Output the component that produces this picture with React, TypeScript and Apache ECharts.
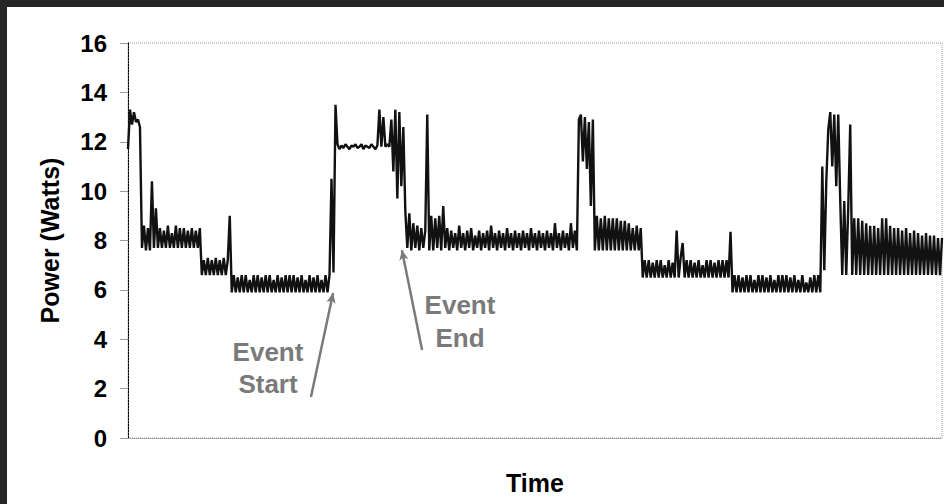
import React, { useEffect, useRef } from "react";
import * as echarts from "echarts";

// Power samples, one per time step, split into the phases of the trace.
const warmUp = [11.7, 13.3, 12.7, 13.2, 12.8, 12.9, 12.6];
const idleHigh = [
  7.7, 8.6, 7.6, 8.5, 7.6, 10.4, 7.7, 9.3, 7.7, 8.5,
  7.7, 8.4, 7.7, 8.6, 7.7, 8.3, 7.7, 8.6, 7.7, 8.5,
  7.7, 8.5, 7.7, 8.4, 7.7, 8.5, 7.7, 8.4, 7.7, 8.5,
];
const idleMid = [6.6, 7.2, 6.6, 7.3, 6.6, 7.2, 6.6, 7.3, 6.6, 7.2, 6.6, 7.3, 6.6, 7.2, 9.0];
const idleLow = [
  5.9, 6.6, 5.9, 6.5, 5.9, 6.6, 5.9, 6.6, 5.9, 6.4,
  5.9, 6.6, 5.9, 6.6, 5.9, 6.5, 5.9, 6.6, 5.9, 6.6,
  5.9, 6.4, 5.9, 6.6, 5.9, 6.5, 5.9, 6.6, 5.9, 6.6,
  5.9, 6.6, 5.9, 6.5, 5.9, 6.6, 5.9, 6.4, 5.9, 6.6,
  5.9, 6.5, 5.9, 6.6, 5.9, 6.4, 5.9, 6.6, 5.9, 6.6,
];
const eventRise = [10.5, 6.7, 13.5];
const eventPlateau = [
  11.9, 11.7, 11.85, 11.75, 11.9, 11.8, 11.7, 11.85, 11.8, 11.9,
  11.75, 11.8, 11.9, 11.7, 11.85, 11.8, 11.75, 11.9, 11.8, 11.7,
  11.85, 13.3, 11.8, 13.0, 11.8, 11.9, 11.8,
];
const eventFall = [12.9, 10.8, 13.3, 9.7, 13.2, 10.2, 12.6, 9.2];
const afterEvent = [
  7.7, 9.1, 7.6, 8.7, 7.7, 8.6, 7.6, 8.5, 7.7, 8.4,
  13.1, 7.6, 9.0, 7.6, 8.9, 7.7, 9.0, 7.6, 9.4, 7.7,
  8.5, 7.6, 8.4, 7.7, 8.3, 7.6, 8.6, 7.7, 8.3, 7.6,
  8.4, 7.7, 8.5, 7.6, 8.2, 7.7, 8.4, 7.6, 8.3, 7.7,
  8.4, 7.6, 8.6, 7.7, 8.3, 7.6, 8.4, 7.7, 8.3, 7.6,
  8.5, 7.7, 8.3, 7.6, 8.4, 7.7, 8.3, 7.6, 8.4, 7.7,
  8.3, 7.6, 8.5, 7.7, 8.3, 7.6, 8.4, 7.7, 8.3, 7.6,
  8.4, 7.7, 8.3, 7.6, 8.7, 7.7, 8.3, 7.6, 8.4, 7.7,
  8.3, 7.6, 8.7, 7.7, 8.4, 7.6,
];
const burst2 = [12.9, 13.1, 11.2, 13.0, 10.9, 12.8, 9.4, 12.9];
const settle2 = [
  7.6, 9.0, 7.6, 8.9, 7.6, 9.0, 7.6, 8.9, 7.6, 8.9,
  7.6, 8.9, 7.6, 8.8, 7.6, 8.8, 7.6, 8.7, 7.6, 8.5,
  7.6, 8.6, 7.6, 8.5,
];
const mid2 = [
  6.5, 7.2, 6.5, 7.2, 6.5, 7.1, 6.5, 7.2, 6.5, 7.2,
  6.5, 7.0, 6.5, 7.2, 6.5, 7.1, 6.5, 8.4, 6.5, 7.3,
  7.9, 6.5, 7.2, 6.5, 7.2, 6.5, 7.1, 6.5, 7.2, 6.5,
  7.0, 6.5, 7.2, 6.5, 7.2, 6.5, 7.1, 6.5, 7.2, 6.5,
  7.2, 6.5, 7.2, 6.5, 8.35,
];
const low2 = [
  5.9, 6.6, 5.9, 6.6, 5.9, 6.5, 5.9, 6.6, 5.9, 6.6,
  5.9, 6.4, 5.9, 6.6, 5.9, 6.6, 5.9, 6.5, 5.9, 6.6,
  5.9, 6.4, 5.9, 6.6, 5.9, 6.6, 5.9, 6.6, 5.9, 6.5,
  5.9, 6.6, 5.9, 6.4, 5.9, 6.6, 5.9, 6.3, 5.9, 6.5,
  5.9, 6.6, 5.9, 6.6, 5.9,
];
const burst3 = [11.0, 6.8, 10.4, 12.5, 13.2, 11.0, 13.1, 10.2, 13.1, 9.6];
const tail = [
  6.6, 9.6, 6.6, 9.3, 12.7, 6.6, 8.9, 6.6, 8.9, 6.6,
  8.8, 6.6, 8.7, 6.6, 8.6, 6.6, 8.6, 6.6, 8.5, 6.6,
  8.9, 6.6, 8.9, 6.6, 8.6, 6.6, 8.5, 6.6, 8.5, 6.6,
  8.4, 6.6, 8.5, 6.6, 8.3, 6.6, 8.4, 6.6, 8.3, 6.6,
  8.2, 6.6, 8.3, 6.6, 8.2, 6.6, 8.2, 6.6, 8.1, 6.6,
  8.1,
];

const yTicks = [0, 2, 4, 6, 8, 10, 12, 14, 16];

// Arrow anchors in (sample index, watts)
const startArrow = { from: [91.7, 1.66], to: [102.8, 5.87] };
const endArrow = { from: [147.4, 3.56], to: [137.3, 7.61] };

const power = [
  ...warmUp, ...idleHigh, ...idleMid, ...idleLow, ...eventRise, ...eventPlateau,
  ...eventFall, ...afterEvent, ...burst2, ...settle2, ...mid2, ...low2, ...burst3, ...tail,
];

const FONT = "'Liberation Sans', Arial, sans-serif";
const NOTE = "#7a7a7a";

export default function App() {
  const ref = useRef<HTMLDivElement>(null);

  useEffect(() => {
    if (!ref.current) return;
    const chart = echarts.init(ref.current, undefined, { renderer: "svg" });
    const data = power.map((v, i) => [i, v]);
    chart.setOption({
      animation: false,
      backgroundColor: "#fff",
      grid: {
        left: 128,
        right: 2,
        top: 43,
        bottom: 66,
        outerBoundsMode: "none",
        containLabel: false,
        show: true,
        borderColor: "#9a9a9a",
        borderWidth: 1,
        borderType: "dotted",
      },
      xAxis: {
        type: "value",
        min: 0,
        max: power.length - 1,
        name: "Time",
        nameLocation: "middle",
        nameGap: 32,
        nameTextStyle: { fontFamily: FONT, fontWeight: "bold", fontSize: 25, color: "#000" },
        axisLine: { show: true, lineStyle: { color: "#9a9a9a", type: "dotted", width: 1 } },
        axisTick: { show: false },
        axisLabel: { show: false },
        splitLine: { show: false },
      },
      yAxis: {
        type: "value",
        min: yTicks[0],
        max: yTicks[yTicks.length - 1],
        interval: 2,
        name: "Power (Watts)",
        nameLocation: "middle",
        nameGap: 66,
        nameTextStyle: { fontFamily: FONT, fontWeight: "bold", fontSize: 25, color: "#000" },
        axisLine: { show: true, lineStyle: { color: "#000", type: [2, 1], width: 1 } },
        axisTick: { show: true, inside: false, length: 8, lineStyle: { color: "#9a9a9a" } },
        axisLabel: {
          margin: 21,
          fontFamily: FONT,
          fontWeight: "bold",
          fontSize: 24,
          color: "#000",
        },
        splitLine: { show: false },
      },
      series: [
        {
          type: "line",
          data,
          showSymbol: false,
          symbol: "none",
          lineStyle: { color: "#111", width: 2.4 },
          markLine: {
            silent: true,
            symbol: ["none", "arrow"],
            symbolSize: [7, 10],
            label: { show: false },
            lineStyle: { color: NOTE, width: 2.5, type: "solid" },
            data: [
              [{ coord: startArrow.from }, { coord: startArrow.to }],
              [{ coord: endArrow.from }, { coord: endArrow.to }],
            ],
          },
        },
      ],
      graphic: [
        { type: "rect", shape: { x: 0, y: 0, width: 7, height: 504 }, style: { fill: "#262626" } },
        { type: "rect", shape: { x: 0, y: 0, width: 944, height: 7 }, style: { fill: "#262626" } },
        {
          type: "text",
          x: 268,
          y: 368,
          style: {
            text: "Event\nStart",
            fill: NOTE,
            font: `bold 26px ${FONT}`,
            align: "center",
            verticalAlign: "middle",
            lineHeight: 32,
          },
        },
        {
          type: "text",
          x: 460,
          y: 321,
          style: {
            text: "Event\nEnd",
            fill: NOTE,
            font: `bold 26px ${FONT}`,
            align: "center",
            verticalAlign: "middle",
            lineHeight: 33,
          },
        },
      ],
    });
    return () => chart.dispose();
  }, []);

  return (
    <div
      ref={ref}
      style={{ position: "absolute", left: 0, top: 0, width: 944, height: 504, background: "#fff" }}
    />
  );
}
